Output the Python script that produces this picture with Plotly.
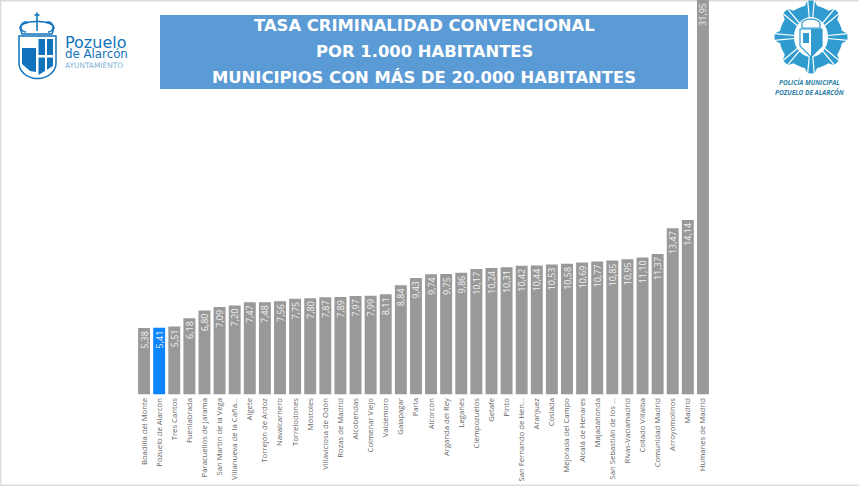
import math
import plotly.graph_objects as go

municipios = ["Boadilla del Monte", "Pozuelo de Alarcón", "Tres Cantos", "Fuenlabrada", "Paracuellos de Jarama",
              "San Martín de la Vega", "Villanueva de la Caña...", "Algete", "Torrejón de Ardoz", "Navalcarnero",
              "Torrelodones", "Móstoles", "Villaviciosa de Odón", "Rozas de Madrid", "Alcobendas", "Colmenar Viejo",
              "Valdemoro", "Galapagar", "Parla", "Alcorcón", "Arganda del Rey", "Leganés", "Ciempozuelos", "Getafe",
              "Pinto", "San Fernando de Hen...", "Aranjuez", "Coslada", "Mejorada del Campo", "Alcalá de Henares",
              "Majadahonda", "San Sebastián de los ...", "Rivas-Vaciamadrid", "Collado Villalba", "Comunidad Madrid",
              "Arroyomolinos", "Madrid", "Humanes de Madrid"]
tasas = [5.38, 5.41, 5.51, 6.18, 6.80, 7.09, 7.20, 7.47, 7.48, 7.56, 7.75, 7.80, 7.87, 7.89, 7.97, 7.99, 8.11, 8.84,
         9.43, 9.74, 9.75, 9.86, 10.17, 10.24, 10.31, 10.42, 10.44, 10.53, 10.58, 10.69, 10.77, 10.85, 10.95, 11.10,
         11.37, 13.47, 14.14, 31.95]
destacado = "Pozuelo de Alarcón"
titulo = ["TASA CRIMINALIDAD CONVENCIONAL", "POR 1.000 HABITANTES", "MUNICIPIOS CON MÁS DE 20.000 HABITANTES"]

W, H = 859, 486
GREY, HILITE, BANNER, LOGO, BADGE = "#999999", "#0A84FF", "#5B9BD5", "#1173BC", "#2F9BCF"
TICK_FONT = "Open Sans"


def px(x):
    return x / W


def py(y):
    return 1 - y / H


def rect(x0, y0, x1, y1, color):
    return dict(type="rect", xref="paper", yref="paper", x0=px(x0), x1=px(x1), y0=py(y0), y1=py(y1),
                fillcolor=color, line_width=0, layer="below")


def path(points, color=None, line=None, width=1.0, close=True):
    d = "M " + " L ".join(f"{px(a):.5f},{py(b):.5f}" for a, b in points) + (" Z" if close else "")
    return dict(type="path", xref="paper", yref="paper", path=d, fillcolor=color if color else "rgba(0,0,0,0)",
                line=dict(color=line if line else "rgba(0,0,0,0)", width=width if line else 0), layer="above")


def ring(cx, cy, rx, ry, a0=0, a1=360, n=30):
    return [(cx + rx * math.cos(math.radians(a0 + (a1 - a0) * i / n)),
             cy + ry * math.sin(math.radians(a0 + (a1 - a0) * i / n))) for i in range(n + 1)]


shapes = [rect(160, 15, 688, 89, BANNER)]
# page frame
shapes += [rect(0, 0, W, 1.5, "#DDDDDD"), rect(0, 0, 1.5, H, "#DDDDDD"), rect(0, 484.5, W, H, "#DDDDDD")]

# town council logo: crown, cross and shield
shapes.append(path([(37, 12.5), (37, 21)], line=LOGO, width=1.6, close=False))
shapes.append(path([(34.5, 15), (39.5, 15)], line=LOGO, width=1.6, close=False))
shapes.append(path(ring(37, 28, 17, 6.5, 180, 360) + [(52, 34), (22, 34)], line=LOGO, width=1.5))
shapes.append(path(ring(26, 27, 5, 5, 90, 300), line=LOGO, width=1.5, close=False))
shapes.append(path(ring(48, 27, 5, 5, 240, 450), line=LOGO, width=1.5, close=False))
shapes.append(path([(37, 22), (37, 31)], line=LOGO, width=1.5, close=False))
shield = [(19, 36), (56, 36), (56, 63)] + ring(37.5, 63, 18.5, 15.5, 0, 180) + [(19, 36)]
shapes.append(path(shield, line=LOGO, width=1.5))
shapes.append(path([(22, 48), (36, 48), (36, 72), (30, 71), (22, 64)], color=LOGO))
shapes.append(path([(38.5, 39), (53, 39), (53, 55), (38.5, 55)], color=LOGO))
shapes.append(path([(38.5, 57.5), (53, 57.5), (53, 66), (38.5, 75)], color=LOGO))
shapes.append(path([(45, 39), (47, 39), (47, 75), (45, 75)], color="white"))

# police badge: stepped star, rays and central shield
cx, cy = 811, 37
star = []
for i in range(64):
    a = 2 * math.pi * i / 64
    r = 36.5 if i % 8 in (0, 1, 7) else 31.5
    star.append((cx + r * math.cos(a), cy + r * math.sin(a)))
shapes.append(path(star, color=BADGE))
for i in range(8):
    for d in (-0.09, 0.09):
        a = 2 * math.pi * i / 8 + d
        shapes.append(path([(cx + 14 * math.cos(a), cy + 14 * math.sin(a)),
                            (cx + 37 * math.cos(a), cy + 37 * math.sin(a))], line="white", width=1.2, close=False))
shapes.append(path(ring(cx, cy, 17, 20), color="white"))
shapes.append(path(ring(cx, cy - 13, 9, 5, 180, 360) + [(cx + 9, cy - 9), (cx - 9, cy - 9)], line=BADGE, width=1.2))
shapes.append(path([(cx - 11, cy - 8), (cx + 11, cy - 8), (cx + 11, cy + 9), (cx, cy + 20), (cx - 11, cy + 9)],
                   line=BADGE, width=1.2))
shapes.append(path([(cx, cy - 8), (cx + 11, cy - 8), (cx + 11, cy + 9), (cx, cy + 20)], color=BADGE))
shapes.append(path([(cx - 8, cy + 6), (cx - 8, cy - 4), (cx - 2, cy - 4), (cx - 2, cy + 6)], color=BADGE))

annotations = []
for texto, y in zip(titulo, [25.5, 52, 77.5]):
    annotations.append(dict(text=f"<b>{texto}</b>", x=px(424), y=py(y), xref="paper", yref="paper", showarrow=False,
                            xanchor="center", yanchor="middle", font=dict(family="DejaVu Sans", size=16.4, color="white")))
logo_texto = ("<span style='font-size:16px'>Pozuelo</span><br>"
              "<span style='font-size:11.8px'>de Alarcón</span><br>"
              "<span style='font-size:7.4px;color:#7FB3D8'>AYUNTAMIENTO</span>")
annotations.append(dict(text=logo_texto, x=px(62.5), y=py(51), xref="paper", yref="paper", showarrow=False, xanchor="left",
                        yanchor="middle", align="left", font=dict(family="DejaVu Sans", size=7.5, color=LOGO)))
for texto, y in [("POLICÍA MUNICIPAL", 83), ("POZUELO DE ALARCÓN", 92)]:
    annotations.append(dict(text=f"<b><i>{texto}</i></b>", x=px(809), y=py(y), xref="paper", yref="paper", showarrow=False,
                            xanchor="center", yanchor="middle", font=dict(family="Open Sans", size=6.5, color="#2E7FA8")))

etiquetas = [f"{v:.2f}".replace(".", ",") for v in tasas]
colores = [HILITE if m == destacado else GREY for m in municipios]

fig = go.Figure(go.Bar(x=municipios, y=tasas, marker=dict(color=colores, line_width=0), width=0.79,
                       text=etiquetas, textposition="inside", insidetextanchor="end", textangle=-90,
                       cliponaxis=False, constraintext="none",
                       textfont=dict(family=TICK_FONT, size=9, color="#F2F2F2"), hoverinfo="x+y"))
fig.update_layout(width=W, height=H, margin=dict(l=0, r=0, t=0, b=0), paper_bgcolor="white", plot_bgcolor="white",
                  showlegend=False, shapes=shapes, annotations=annotations)
fig.update_xaxes(domain=[px(136.5), px(710.5)], range=[-0.5, 37.5], type="category", tickangle=-90, showgrid=False,
                 showline=False, ticks="", ticklen=0, automargin=False, ticklabelstandoff=1,
                 tickfont=dict(family=TICK_FONT, size=7.7, color="#666666"))
fig.update_yaxes(domain=[py(394.5), py(0)], range=[0, 31.95], visible=False, showgrid=False, zeroline=False, automargin=False)
fig.write_html("out.html", config={"displayModeBar": False},
               post_script="document.body.style.margin='0';document.body.style.overflow='hidden';")
